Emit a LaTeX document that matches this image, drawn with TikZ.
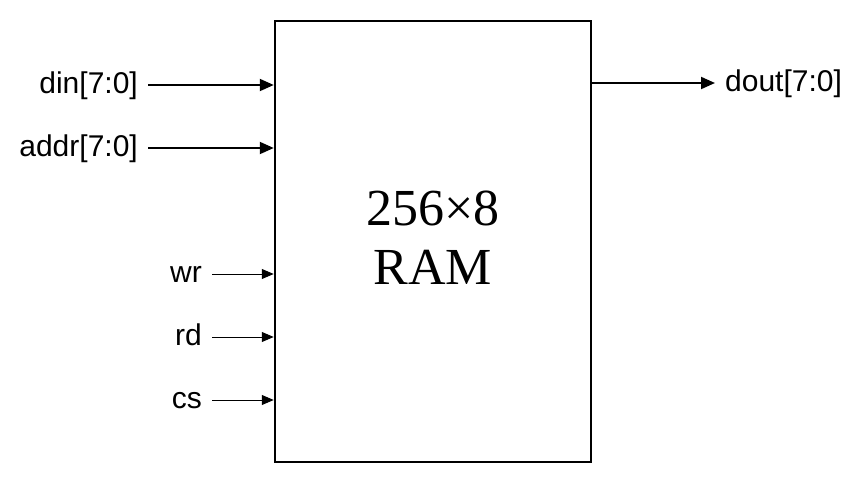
\documentclass[tikz,border=0pt]{standalone}
\usepackage{fontspec}
\setmainfont{Liberation Serif}
\setsansfont{Liberation Sans}
\usetikzlibrary{arrows.meta,positioning}

\begin{document}
\begin{tikzpicture}[x=1pt, y=-1pt,
    block/.style={rectangle, draw=black, line width=2.5pt, fill=white, minimum width=316pt, minimum height=441pt, inner sep=0pt},
    pin/.style={inner xsep=10pt, inner ysep=0pt, text height=17pt, text depth=0pt, font=\sffamily\fontsize{30}{36}\selectfont},
    bus/.style={line width=2pt, -{Stealth[inset=0pt, length=14pt, width=12pt]}},
    wire/.style={line width=1pt, -{Stealth[inset=0pt, length=12pt, width=10pt]}}
]
    \useasboundingbox (0,0) rectangle (868,482);

    % RAM block
    \node[block] (ram) at (433,241.5) {};
    \node[align=center, font=\fontsize{52}{59}\selectfont] (name) at (433,238) {256×8\\RAM};

    % inputs
    \node[pin, anchor=east] (din) at (148,85) {din[7:0]};
    \node[pin, anchor=east] (addr) at (148,148) {addr[7:0]};
    \node[pin, anchor=east] (wr) at (212,274) {wr};
    \node[pin, anchor=east] (rd) at (212,337) {rd};
    \node[pin, anchor=east] (cs) at (212,400) {cs};

    % output
    \node[pin, anchor=west] (dout) at (715,83) {dout[7:0]};

    % connections
    \draw[bus] (din.east) -- (din.east -| ram.west);
    \draw[bus] (addr.east) -- (addr.east -| ram.west);
    \draw[wire] (wr.east) -- (wr.east -| ram.west);
    \draw[wire] (rd.east) -- (rd.east -| ram.west);
    \draw[wire] (cs.east) -- (cs.east -| ram.west);
    \draw[bus] (dout.west -| ram.east) -- (dout.west);
\end{tikzpicture}
\end{document}
